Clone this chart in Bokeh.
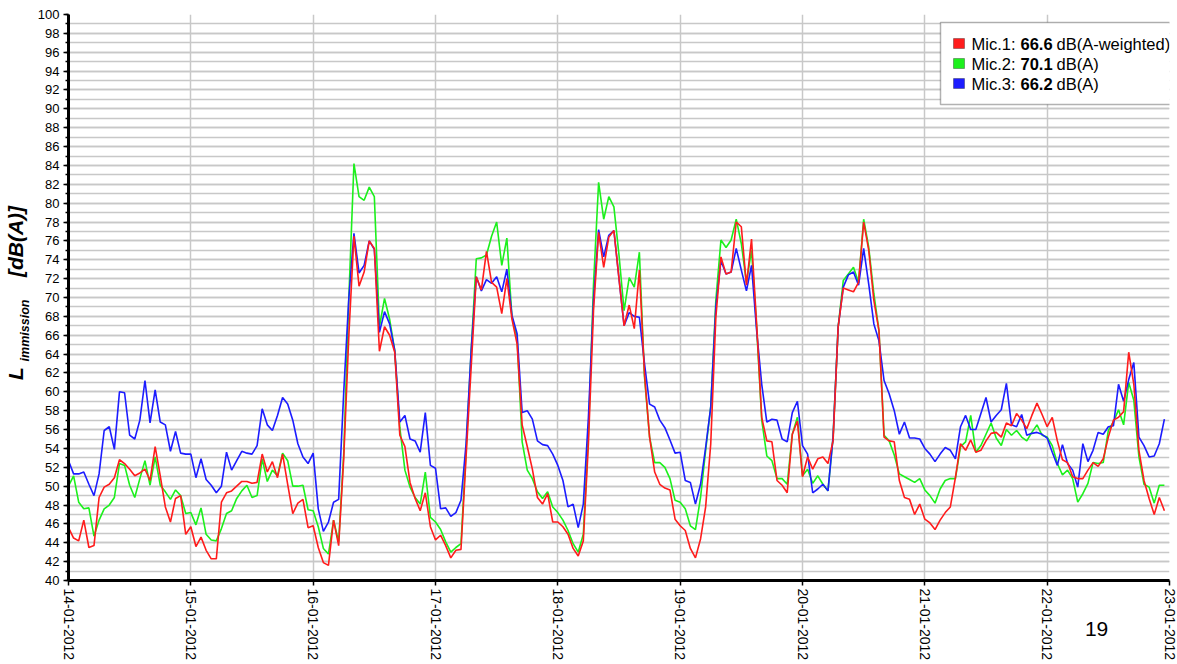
import math
import pandas as pd
from bokeh.plotting import figure
from bokeh.models import (Range1d, FixedTicker, SingleIntervalTicker, DatetimeTickFormatter,
                          Label, BoxAnnotation, LinearAxis, CustomJSTickFormatter)
from bokeh.embed import file_html
from bokeh.resources import INLINE

# ---------------- data (hourly levels, dB(A)) ----------------
start_day = "2012-01-14 00:00"
n_hours = 216
tick_days = ["2012-01-14", "2012-01-15", "2012-01-16", "2012-01-17", "2012-01-18",
             "2012-01-19", "2012-01-20", "2012-01-21", "2012-01-22", "2012-01-23"]

mic1 = [45.6, 44.5, 44.2, 46.4, 43.5, 43.7, 48.8, 49.9, 50.2, 50.9,
        52.8, 52.4, 51.8, 51.1, 51.4, 51.8, 50.6, 54.2, 51.1, 47.8,
        46.2, 48.7, 49.0, 44.9, 45.7, 43.6, 44.6, 43.2, 42.3, 42.3,
        48.3, 49.3, 49.5, 50.0, 50.5, 50.5, 50.3, 50.4, 53.4, 51.5,
        52.6, 50.9, 53.4, 50.2, 47.1, 48.2, 48.6, 45.6, 45.8, 43.5,
        41.9, 41.6, 46.4, 43.7, 53.0, 66.0, 76.5, 71.2, 72.7, 76.0,
        75.2, 64.3, 66.9, 66.0, 64.2, 55.4, 54.2, 50.4, 48.7, 47.4,
        49.3, 45.7, 44.3, 44.8, 43.7, 42.4, 43.2, 43.3, 53.1, 62.6,
        72.2, 70.8, 74.9, 71.6, 71.1, 68.3, 72.0, 67.7, 65.1, 56.5,
        54.2, 51.8, 48.8, 48.1, 49.2, 46.2, 46.2, 45.7, 44.9, 43.4,
        42.6, 44.2, 54.5, 68.6, 76.9, 73.2, 76.4, 77.1, 72.0, 67.0,
        69.2, 66.7, 72.9, 61.9, 55.2, 51.5, 50.2, 49.8, 49.6, 46.5,
        45.8, 45.3, 43.4, 42.4, 44.4, 47.8, 54.5, 67.9, 74.3, 72.5,
        72.7, 78.0, 77.5, 71.3, 76.2, 67.2, 57.3, 54.8, 54.7, 50.6,
        50.1, 49.3, 55.5, 56.9, 51.0, 53.1, 51.8, 52.9, 53.1, 52.4,
        54.8, 66.9, 71.0, 70.8, 70.6, 71.6, 78.0, 75.0, 69.7, 66.5,
        55.2, 54.8, 54.7, 50.6, 48.8, 48.6, 47.0, 48.1, 46.5, 46.1,
        45.4, 46.4, 47.2, 47.8, 50.9, 54.5, 53.8, 54.9, 53.6, 53.8,
        54.8, 55.6, 55.7, 55.2, 56.7, 56.4, 57.7, 57.0, 56.1, 57.5,
        58.8, 57.6, 56.3, 57.3, 54.8, 52.8, 52.5, 51.0, 50.8, 50.8,
        51.7, 52.5, 52.1, 52.9, 55.2, 57.0, 57.3, 57.9, 64.2, 60.8,
        53.8, 50.6, 48.7, 47.0, 48.8, 47.4]

mic2 = [50.0, 51.1, 48.3, 47.6, 47.7, 44.7, 46.4, 47.6, 48.0, 48.8,
        52.4, 52.2, 50.1, 48.8, 50.8, 52.7, 50.1, 53.1, 50.1, 49.4,
        48.6, 49.6, 49.0, 47.1, 47.2, 45.9, 47.7, 44.9, 44.3, 44.2,
        45.5, 47.1, 47.4, 48.7, 49.5, 50.1, 48.8, 49.0, 52.9, 50.5,
        51.7, 51.1, 53.5, 52.7, 50.0, 50.0, 50.1, 47.5, 47.4, 45.7,
        43.4, 42.8, 46.4, 44.1, 53.5, 70.0, 84.2, 80.7, 80.3, 81.7,
        80.7, 66.9, 69.9, 67.7, 64.4, 56.2, 51.7, 49.9, 48.8, 48.1,
        51.5, 46.7, 46.2, 45.4, 44.1, 43.0, 43.5, 43.9, 53.8, 64.4,
        74.1, 74.2, 74.5, 76.5, 78.0, 73.4, 76.3, 67.9, 65.8, 54.7,
        51.7, 50.8, 49.4, 48.7, 49.4, 47.8, 47.2, 46.4, 45.3, 43.9,
        43.0, 44.9, 55.5, 71.4, 82.2, 78.3, 80.7, 79.6, 74.5, 68.6,
        72.1, 71.1, 74.8, 61.6, 55.2, 52.5, 52.5, 52.0, 50.8, 48.5,
        48.3, 47.6, 45.8, 45.4, 48.8, 53.8, 58.4, 69.7, 76.1, 75.3,
        76.1, 78.3, 75.7, 71.6, 75.0, 66.9, 57.0, 53.2, 52.7, 50.8,
        50.8, 50.2, 55.5, 57.3, 51.1, 51.8, 50.3, 51.1, 50.2, 49.5,
        55.2, 66.9, 71.8, 72.5, 73.2, 71.6, 78.3, 75.3, 70.4, 66.5,
        55.4, 54.8, 53.3, 51.3, 51.0, 50.7, 50.4, 50.8, 49.6, 49.0,
        48.2, 49.7, 50.6, 50.8, 50.8, 54.2, 54.7, 57.5, 53.6, 54.3,
        55.5, 56.7, 55.1, 54.3, 56.0, 55.4, 55.9, 55.2, 54.8, 55.7,
        56.5, 55.4, 55.2, 54.3, 52.4, 51.2, 51.7, 50.8, 48.3, 49.2,
        50.3, 52.5, 52.4, 52.5, 55.9, 56.8, 58.1, 56.5, 61.0, 59.1,
        53.1, 50.2, 49.9, 48.2, 50.1, 50.1]

mic3 = [52.7, 51.3, 51.3, 51.5, 50.2, 49.0, 51.3, 55.9, 56.3, 53.9,
        60.0, 59.9, 55.4, 55.0, 57.0, 61.2, 56.7, 60.2, 56.8, 56.5,
        53.7, 55.8, 53.5, 53.4, 53.4, 50.9, 52.9, 50.7, 50.1, 49.3,
        50.0, 53.6, 51.7, 52.7, 53.7, 53.5, 53.4, 54.3, 58.2, 56.5,
        55.9, 57.5, 59.4, 58.7, 57.0, 54.5, 53.1, 52.4, 53.5, 47.6,
        45.2, 46.2, 48.3, 48.6, 60.0, 70.0, 76.8, 72.6, 73.4, 76.0,
        75.1, 66.3, 68.5, 67.2, 64.4, 56.8, 57.5, 55.0, 54.8, 53.6,
        57.8, 52.2, 51.9, 47.6, 47.7, 46.8, 47.2, 48.5, 54.5, 64.4,
        72.2, 70.7, 71.9, 71.5, 72.2, 70.6, 73.0, 68.1, 66.2, 57.8,
        58.0, 57.1, 54.8, 54.4, 54.3, 53.4, 52.2, 50.6, 47.8, 48.1,
        45.6, 48.1, 57.3, 69.7, 77.2, 74.3, 76.6, 77.1, 72.0, 67.0,
        68.4, 68.0, 67.9, 63.0, 58.7, 58.4, 57.0, 56.2, 54.9, 53.5,
        53.6, 50.6, 50.4, 48.1, 50.2, 54.1, 58.4, 69.0, 73.9, 72.5,
        72.7, 75.2, 72.9, 70.7, 73.4, 66.5, 60.8, 56.8, 57.1, 57.0,
        55.0, 54.7, 57.8, 59.0, 54.3, 53.4, 49.3, 49.7, 50.2, 49.5,
        55.2, 66.9, 71.1, 72.4, 72.7, 71.3, 75.2, 71.4, 67.2, 65.4,
        61.2, 59.8, 58.0, 55.5, 56.8, 55.1, 55.1, 55.0, 54.0, 53.4,
        52.6, 53.4, 54.1, 53.8, 52.9, 56.3, 57.5, 56.0, 56.0, 57.7,
        59.4, 56.8, 57.5, 58.1, 60.9, 56.5, 56.3, 57.6, 55.4, 55.6,
        55.7, 55.5, 55.1, 53.6, 52.2, 54.4, 52.4, 51.7, 49.9, 54.5,
        52.6, 53.8, 55.7, 55.5, 56.3, 56.4, 60.8, 59.0, 61.3, 63.1,
        55.2, 54.3, 53.1, 53.2, 54.5, 57.1]

legend_names = ["Mic.1: ", "Mic.2: ", "Mic.3: "]
legend_values = ["66.6", "70.1", "66.2"]
legend_units = ["dB(A-weighted)", "dB(A)", "dB(A)"]
colors = ["#ff1c1c", "#1cf01c", "#1c1cff"]
y_label_main = ["L", "[dB(A)]"]
y_label_sub = ["immission"]
page_number = "19"

# ---------------- figure ----------------
times = pd.date_range(start_day, periods=n_hours, freq="h")
t0 = pd.Timestamp(tick_days[0])
t1 = pd.Timestamp(tick_days[-1])
t0_ms = t0.value / 1e6
t1_ms = t1.value / 1e6
tick_ms = [pd.Timestamp(d).value / 1e6 for d in tick_days]

W, H = 1177, 664
ML, MR, MT, MB = 67, 8, 14, 84
FRAME_W = W - ML - MR
FRAME_H = H - MT - MB

p = figure(width=W, height=H, x_axis_type="datetime",
           x_range=Range1d(t0, t1), y_range=Range1d(40, 100),
           output_backend="svg", toolbar_location=None, tools="",
           min_border_left=ML, min_border_right=MR, min_border_top=MT,
           min_border_bottom=MB)
p.outline_line_color = None
p.background_fill_color = "white"
p.border_fill_color = "white"

def dx(px):
    """canvas pixel column -> x value (ms)"""
    return t0_ms + (px - ML) / FRAME_W * (t1_ms - t0_ms)

def dy(py):
    """canvas pixel row -> y value (dB)"""
    return 100 - (py - MT) / FRAME_H * 60

FONT = "Liberation Sans"

# axes
xa = p.xaxis[0]
ya = p.yaxis[0]
xa.ticker = FixedTicker(ticks=tick_ms)
fmt = "%d-%m-%Y"
xa.formatter = DatetimeTickFormatter(days=fmt, months=fmt, hours=fmt, years=fmt,
                                     minutes=fmt, hourmin=fmt, seconds=fmt)
xa.major_label_orientation = "vertical"
xa.major_label_text_font = FONT
xa.major_label_text_font_size = "14px"
xa.major_label_text_color = "black"
xa.axis_line_width = 3
xa.axis_line_color = "black"
xa.major_tick_out = 5
xa.major_tick_in = 0
xa.major_tick_line_width = 1.5
xa.minor_tick_line_color = None
xa.major_label_standoff = 3

ya.ticker = SingleIntervalTicker(interval=2, num_minor_ticks=2)
ya.major_label_text_font = FONT
ya.major_label_text_font_size = "13px"
ya.major_label_text_color = "black"
ya.axis_line_width = 3
ya.axis_line_color = "black"
ya.major_tick_out = 5
ya.major_tick_in = 0
ya.minor_tick_out = 3
ya.minor_tick_in = 0
ya.major_tick_line_width = 1.5
ya.minor_tick_line_width = 1.5
ya.major_label_standoff = 4

p.xgrid.grid_line_color = "#c8c8c8"
p.xgrid.grid_line_width = 1.5
p.ygrid.grid_line_color = "#c8c8c8"
p.ygrid.grid_line_width = 1.5
p.ygrid.minor_grid_line_color = "#c8c8c8"
p.ygrid.minor_grid_line_width = 1.5

# series (green, blue, red on top)
for vals, col in [(mic2, colors[1]), (mic3, colors[2]), (mic1, colors[0])]:
    p.line(times, vals, line_color=col, line_width=1.6)

# ---- text outside the frame, drawn as labels of bare extra axes ----
bare = dict(axis_line_color=None, major_tick_line_color=None, minor_tick_line_color=None,
            major_tick_out=0, minor_tick_out=0, major_tick_in=0, minor_tick_in=0)
pick_js = """
let best = 0;
for (let i = 0; i < vals.length; i++)
  if (Math.abs(vals[i] - tick) < Math.abs(vals[best] - tick)) best = i;
return texts[best];
"""

# subscript "immission" (nearest to the value axis)
sub_pos = [dy(330)]
ax_sub = LinearAxis(ticker=FixedTicker(ticks=sub_pos),
                    formatter=CustomJSTickFormatter(args=dict(vals=sub_pos, texts=y_label_sub),
                                                    code=pick_js),
                    major_label_orientation="parallel", major_label_standoff=3,
                    major_label_text_font=FONT, major_label_text_font_style="bold italic",
                    major_label_text_font_size="12.5px", major_label_text_color="black",
                    **bare)
p.add_layout(ax_sub, "left")

# "L" and "[dB(A)]"
main_pos = [dy(373), dy(241)]
ax_main = LinearAxis(ticker=FixedTicker(ticks=main_pos),
                     formatter=CustomJSTickFormatter(args=dict(vals=main_pos, texts=y_label_main),
                                                     code=pick_js),
                     major_label_orientation="parallel", major_label_standoff=-12,
                     major_label_text_font=FONT, major_label_text_font_style="bold italic",
                     major_label_text_font_size="21px", major_label_text_color="black",
                     **bare)
p.add_layout(ax_main, "left")

# page number below the date axis
pg_pos = [dx(1096)]
ax_pg = LinearAxis(ticker=FixedTicker(ticks=pg_pos),
                   formatter=CustomJSTickFormatter(args=dict(vals=pg_pos, texts=[page_number]),
                                                   code=pick_js),
                   major_label_orientation="horizontal", major_label_standoff=-42,
                   major_label_text_font=FONT, major_label_text_font_style="normal",
                   major_label_text_font_size="21px", major_label_text_color="black",
                   **bare)
p.add_layout(ax_pg, "below")

# legend box (canvas pixels)
cv = dict(x_units="canvas", y_units="canvas")
bx = dict(left_units="canvas", right_units="canvas", top_units="canvas",
          bottom_units="canvas")
p.add_layout(BoxAnnotation(left=940, right=1175, top=22, bottom=104,
                           fill_color="white", fill_alpha=1, line_color="black",
                           line_width=1.5, level="overlay", **bx))
row_y = [43, 63, 83]
for i in range(3):
    p.add_layout(BoxAnnotation(left=953, right=964, top=row_y[i] - 5, bottom=row_y[i] + 5,
                               fill_color=colors[i], fill_alpha=1,
                               line_color="black", line_width=1, level="overlay", **bx))
    common = dict(text_font=FONT, text_font_size="16.5px", text_color="black",
                  text_baseline="middle", text_align="left", level="overlay", **cv)
    p.add_layout(Label(x=971, y=row_y[i], text=legend_names[i], **common))
    p.add_layout(Label(x=1020, y=row_y[i], text=legend_values[i],
                       text_font_style="bold", **common))
    p.add_layout(Label(x=1056, y=row_y[i], text=legend_units[i], **common))

open("out.html", "w").write(file_html(p, INLINE))
